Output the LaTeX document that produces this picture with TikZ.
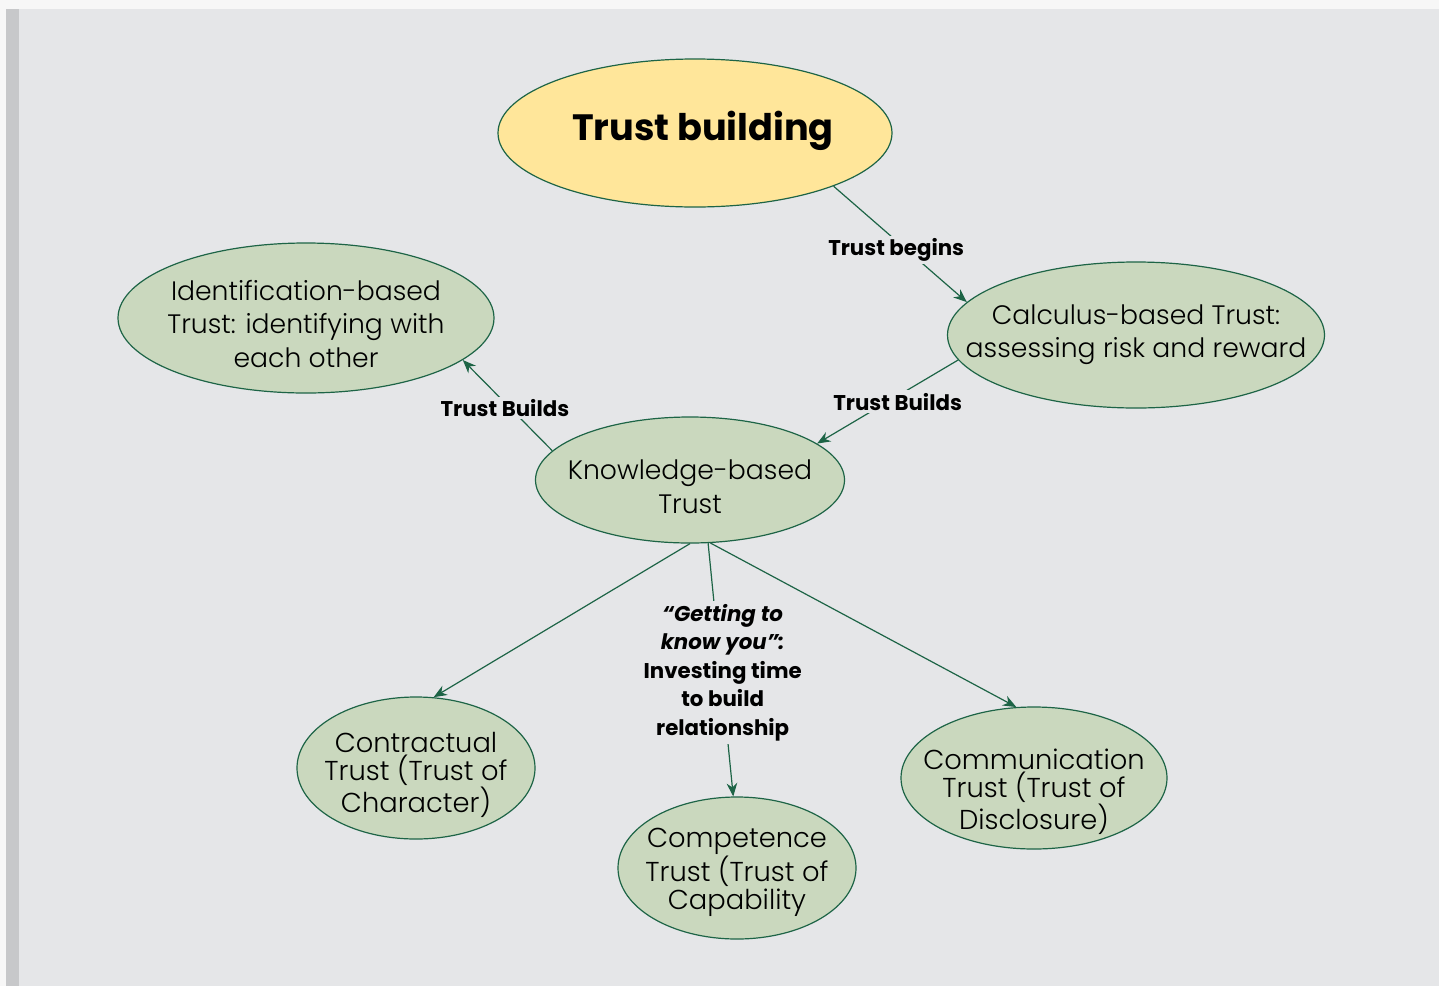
\documentclass[tikz,border=0pt]{standalone}
\usepackage{fontspec}
\setmainfont{Poppins}
\IfFontExistsTF{Poppins Light}{\newfontfamily\lightf{Poppins Light}}{\newfontfamily\lightf{Poppins}}
\usetikzlibrary{shapes.geometric,arrows.meta}
\definecolor{bgc}{HTML}{E5E6E8}
\definecolor{stripe}{HTML}{C7C8CA}
\definecolor{topw}{HTML}{F7F7F7}
\definecolor{yel}{HTML}{FFE69A}
\definecolor{grn}{HTML}{CAD8BE}
\definecolor{dgrn}{HTML}{1D6446}
\tikzset{
  bub/.style={ellipse, draw=dgrn, line width=0.9pt, fill=grn, inner sep=0pt},
  txt/.style={align=center, inner sep=0pt, font=\lightf\fontsize{20}{25}\selectfont},
  btxt/.style={align=center, inner sep=0pt, font=\lightf\fontsize{20.5}{21}\selectfont},
  lbl/.style={fill=bgc, inner sep=2pt, align=center, font=\bfseries\fontsize{16}{21.4}\selectfont},
  conn/.style={draw=dgrn, line width=0.9pt, -{Stealth[length=10pt,width=8pt]}},
}
\begin{document}
\begin{tikzpicture}[x=0.75pt,y=-0.75pt]
\fill[topw] (0,0) rectangle (1439,986);
\fill[bgc] (6,9) rectangle (1439,986);
\fill[stripe] (6,9) rectangle (19,986);
\useasboundingbox (0,0) rectangle (1439,986);

\node[bub, fill=yel, minimum width=295.5pt, minimum height=111pt] (tb) at (695,133) {};
\node[inner sep=0pt, font=\bfseries\fontsize{27.5}{34}\selectfont] (tbt) at (703,131) {Trust building};

\node[bub, minimum width=282pt, minimum height=112.5pt] (ident) at (306,318) {};
\node[txt] (identt) at ([yshift=-4.5pt]ident.center) {Identification-based\\Trust: identifying with\\each other};

\node[bub, minimum width=282.75pt, minimum height=109.5pt] (calc) at (1136,335) {};
\node[txt] (calct) at ([yshift=0pt]calc.center) {Calculus-based Trust:\\assessing risk and reward};

\node[bub, minimum width=231.75pt, minimum height=94.5pt] (know) at (690,480) {};
\node[txt] (knowt) at ([yshift=-5pt]know.center) {Knowledge-based\\Trust};

\node[bub, minimum width=178.5pt, minimum height=106.5pt] (contr) at (416,768) {};
\node[btxt] (contrt) at ([yshift=-5.5pt]contr.center) {Contractual\\Trust (Trust of\\Character)};

\node[bub, minimum width=178.5pt, minimum height=106.5pt] (comp) at (737,868) {};
\node[btxt] (compt) at ([yshift=-3.5pt]comp.center) {Competence\\Trust (Trust of\\Capability};

\node[bub, minimum width=199.5pt, minimum height=106.5pt] (comm) at (1034,778) {};
\node[btxt] (commt) at ([yshift=-10.5pt]comm.center) {Communication\\Trust (Trust of\\Disclosure)};

\draw[conn] (tb.-21) -- node[lbl, xshift=-3pt, yshift=-4.5pt] {Trust begins} (calc.169);
\draw[conn] (calc.-172) -- node[lbl, xshift=7.5pt] {Trust Builds} (know.16);
\draw[conn] (know.168) -- node[lbl, xshift=-2pt, yshift=-2pt] {Trust Builds} (ident.-15);
\draw[conn] (know.-90) -- (contr.76);
\draw[conn] (know.-74) -- node[lbl, xshift=1.5pt, yshift=-2pt] {\itshape “Getting to\\\itshape know you”:\\Investing time\\to build\\relationship} (comp.93);
\draw[conn] (know.-72) -- (comm.104);
\end{tikzpicture}
\end{document}
